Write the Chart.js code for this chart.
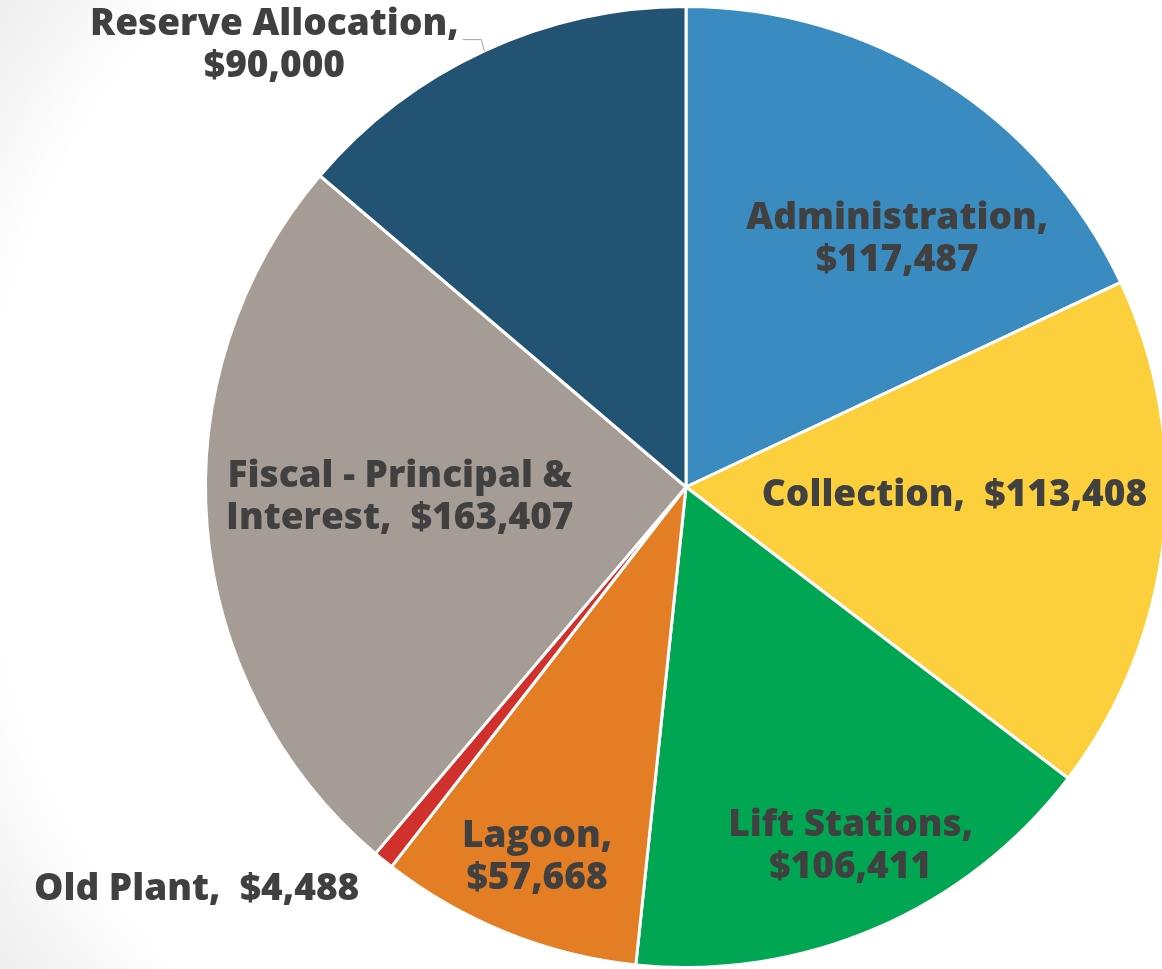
<!DOCTYPE html>
<html>
<head>
<meta charset="utf-8">
<script src="https://cdn.jsdelivr.net/npm/chart.js@4"></script>
<style>
  html, body { margin: 0; padding: 0; overflow: hidden; background: #fff; }
  #wrap { width: 1172px; height: 978px; }
</style>
</head>
<body>
<div id="wrap"><canvas id="budgetChart" width="1172" height="978"></canvas></div>
<script>
const categories = ['Administration', 'Collection', 'Lift Stations', 'Lagoon', 'Old Plant', 'Fiscal - Principal & Interest', 'Reserve Allocation'];
const amounts = [117487, 113408, 106411, 57668, 4488, 163407, 90000];
const sliceColors = ['#3a8bbf', '#fccf3d', '#00a651', '#e37e25', '#d0312d', '#a59c96', '#235372'];
// label text lines as shown on the slide
const labelLines = [
  ['Administration,', '$117,487'],
  ['Collection,  $113,408'],
  ['Lift Stations,', '$106,411'],
  ['Lagoon,', '$57,668'],
  ['Old Plant,  $4,488'],
  ['Fiscal - Principal &', 'Interest,  $163,407'],
  ['Reserve Allocation,', '$90,000']
];

// where each label sits: angle clockwise from top (deg), distance as fraction of radius
const labelPlacement = [
  { angle: 40.5, dist: 0.677 },
  { angle: 91.7, dist: 0.559 },
  { angle: 155.4, dist: 0.823 },
  { angle: 201.9, dist: 0.831 },
  { angle: 230.6, dist: 1.318 },
  { angle: 268.0, dist: 0.596 },
  { angle: 317.0, dist: 1.256, leader: true }
];

const backgroundPlugin = {
  id: 'slideBackground',
  beforeDraw(chart) {
    const ctx = chart.ctx;
    const meta = chart.getDatasetMeta(0);
    const cx = meta.data[0].x, cy = meta.data[0].y;
    const g = ctx.createRadialGradient(cx, cy, 0, cx, cy, 920);
    g.addColorStop(0, '#ffffff');
    g.addColorStop(0.76, '#ffffff');
    g.addColorStop(1, '#e4e4e4');
    ctx.save();
    ctx.fillStyle = g;
    ctx.fillRect(0, 0, chart.width, chart.height);
    ctx.restore();
  }
};

const labelPlugin = {
  id: 'sliceLabels',
  afterDatasetsDraw(chart) {
    const ctx = chart.ctx;
    const meta = chart.getDatasetMeta(0);
    ctx.save();
    ctx.font = '800 37px "Open Sans"';
    ctx.fillStyle = '#404040';
    ctx.textAlign = 'center';
    ctx.textBaseline = 'middle';
    const lineH = 42;
    meta.data.forEach((arc, i) => {
      const p = labelPlacement[i];
      const a = p.angle * Math.PI / 180;
      const x = arc.x + arc.outerRadius * p.dist * Math.sin(a);
      const y = arc.y - arc.outerRadius * p.dist * Math.cos(a);
      const lines = labelLines[i];
      const top = y - (lines.length - 1) * lineH / 2;
      lines.forEach((t, k) => ctx.fillText(t, x, top + k * lineH));
      if (p.leader) {
        const mid = (arc.startAngle + arc.endAngle) / 2;
        const ex = arc.x + arc.outerRadius * Math.cos(mid);
        const ey = arc.y + arc.outerRadius * Math.sin(mid);
        const w = ctx.measureText(lines[0]).width;
        const ly = top + 15;
        ctx.beginPath();
        ctx.strokeStyle = '#a0a0a0';
        ctx.lineWidth = 1;
        ctx.moveTo(ex, ey);
        ctx.lineTo(ex - 3, ly);
        ctx.lineTo(x + w / 2 + 4, ly);
        ctx.stroke();
      }
    });
    ctx.restore();
  }
};

new Chart(document.getElementById('budgetChart').getContext('2d'), {
  type: 'pie',
  data: {
    labels: categories,
    datasets: [{
      data: amounts,
      backgroundColor: sliceColors,
      borderColor: '#ffffff',
      borderWidth: 3
    }]
  },
  options: {
    responsive: false,
    animation: false,
    layout: {
      padding: { left: 204, right: 4, top: 5, bottom: 9 }
    },
    plugins: {
      legend: { display: false },
      tooltip: { enabled: false }
    }
  },
  plugins: [backgroundPlugin, labelPlugin]
});
</script>
</body>
</html>
